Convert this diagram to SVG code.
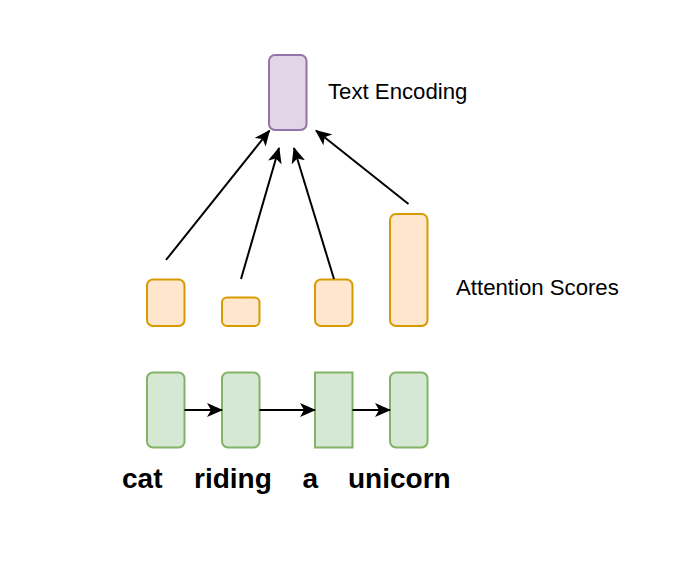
<svg xmlns="http://www.w3.org/2000/svg" width="676" height="566" viewBox="0 0 676 566">
<style>
.enc{fill:#e1d5e7;stroke:#9673a6;stroke-width:2}
.att{fill:#ffe6cc;stroke:#d79b00;stroke-width:2}
.tok{fill:#d5e8d4;stroke:#82b366;stroke-width:2}
.edge{fill:none;stroke:#000;stroke-width:2;marker-end:url(#arr)}
.lbl{font-family:"Liberation Sans",Arial,sans-serif;font-size:22.2px;fill:#000}
.word{font-family:"Liberation Sans",Arial,sans-serif;font-size:28px;font-weight:bold;fill:#000}
</style>
<defs>
<marker id="arr" viewBox="0 0 16 14" refX="15" refY="7" markerWidth="16" markerHeight="14" markerUnits="userSpaceOnUse" orient="auto">
<path d="M0,0 L16,7 L0,14 L4,7 Z" fill="#000"/>
</marker>
</defs>
<rect width="676" height="566" fill="#fff"/>
<g id="encoding"><rect class="enc" x="269" y="55" width="37.5" height="75" rx="6"/></g>
<g id="att1"><rect class="att" x="147" y="279.5" width="37.5" height="46.5" rx="6"/></g>
<g id="att2"><rect class="att" x="222" y="297.5" width="37.5" height="28.5" rx="5"/></g>
<g id="att3"><rect class="att" x="315" y="279.5" width="37.5" height="46.5" rx="6"/></g>
<g id="att4"><rect class="att" x="390" y="214" width="37.5" height="112" rx="6"/></g>
<g id="tok1"><rect class="tok" x="147" y="372.5" width="37.5" height="75" rx="6"/></g>
<g id="tok2"><rect class="tok" x="222" y="372.5" width="37.5" height="75" rx="6"/></g>
<g id="tok3"><rect class="tok" x="315" y="372.5" width="37.5" height="75"/></g>
<g id="tok4"><rect class="tok" x="390" y="372.5" width="37.5" height="75" rx="6"/></g>
<g id="connectors">
<line class="edge" x1="166" y1="260" x2="269.5" y2="130.5"/>
<line class="edge" x1="241" y1="279" x2="279" y2="148"/>
<line class="edge" x1="334" y1="279" x2="294" y2="148"/>
<line class="edge" x1="408.5" y1="204" x2="316" y2="130.5"/>
<line class="edge" x1="184.5" y1="410" x2="222" y2="410"/>
<line class="edge" x1="259.5" y1="410" x2="315" y2="410"/>
<line class="edge" x1="352.5" y1="410" x2="390" y2="410"/>
</g>
<g id="labels">
<text class="lbl" x="328" y="98.5">Text Encoding</text>
<text class="lbl" x="456" y="295">Attention Scores</text>
<text class="word" x="122" y="488">cat</text>
<text class="word" x="194" y="488">riding</text>
<text class="word" x="302.5" y="488">a</text>
<text class="word" x="348" y="488">unicorn</text>
</g>
</svg>
